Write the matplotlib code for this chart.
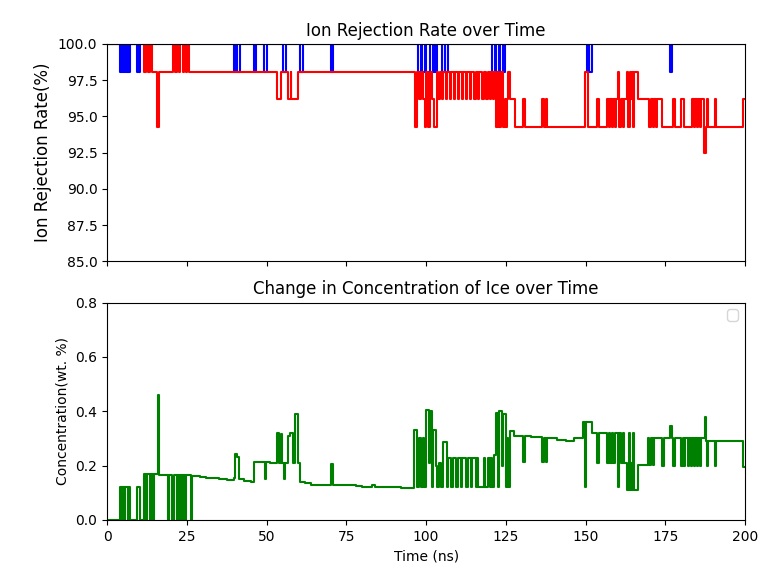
import matplotlib
matplotlib.use('Agg')
import matplotlib.pyplot as plt

# blue series: change points (time ns, rejection %)
blue_t = [0, 4.1, 4.8, 5.0, 5.6, 5.8, 6.5, 6.7, 7.2, 9.4, 9.8, 10.0, 10.3,
          39.8, 40.5, 40.8, 41.7, 46.0, 46.6, 49.2, 50.1, 55.2, 56.0, 60.5, 61.3,
          70.2, 70.8, 97.5, 98.5, 98.8, 99.6, 99.9, 101.3, 102.2, 102.7, 103.0, 103.4,
          105.0, 105.8, 106.0, 107.0, 120.7, 121.6, 121.9, 122.8, 123.2, 124.0,
          124.3, 124.8, 150.3, 151.0, 151.2, 152.0, 176.6, 177.2, 200]
blue_v = [100, 98.1, 100, 98.1, 100, 98.1, 100, 98.1, 100, 98.1, 100, 98.1, 100,
          98.1, 100, 98.1, 100, 98.1, 100, 98.1, 100, 98.1, 100, 98.1, 100,
          98.1, 100, 98.1, 100, 98.1, 100, 98.1, 100, 98.1, 100, 98.1, 100,
          98.1, 100, 98.1, 100, 98.1, 100, 98.1, 100, 98.1, 100,
          98.1, 100, 98.1, 100, 98.1, 100, 98.1, 100, 100]

# red series: change points
red_t = [0, 11.6, 12.2, 12.8, 13.4, 14.0, 15.7, 16.2, 20.7, 21.3, 21.8, 22.4, 22.8,
         23.7, 24.0, 24.6, 25.0, 25.6, 53.3, 54.5, 56.7, 57.5, 57.8, 59.9,
         96.5, 97.2, 97.8, 98.4, 99.0, 99.5, 100.0, 100.5, 101.3, 102.0, 102.5,
         103.3, 103.8, 104.2, 105.0, 105.3, 106.2, 106.5, 107.5, 107.8, 108.6, 109.0,
         110.0, 110.3, 111.2, 111.6, 112.5, 112.9, 113.8, 114.2, 115.0, 115.5,
         116.3, 116.7, 117.5, 118.0, 118.8, 119.3, 120.0, 120.4, 121.0, 121.4,
         122.0, 122.5, 123.0, 123.6, 124.0, 124.6, 125.0, 125.4, 125.8, 126.2, 128.0,
         130.4, 131.0, 136.4, 137.0, 137.5, 138.0, 149.8, 150.8, 153.6, 154.2,
         156.7, 157.2, 157.6, 158.2, 158.5, 159.2, 159.5, 160.0, 160.6, 161.0, 161.6,
         162.0, 163.0, 163.4, 163.8, 164.2, 164.5, 165.0, 165.3, 166.5, 170.0, 170.5,
         171.0, 171.4, 172.0, 172.3, 174.0, 177.4, 178.0, 180.0, 181.0, 183.4, 184.0,
         184.3, 185.0, 185.3, 186.0, 186.3, 187.2, 187.7, 188.0, 188.4, 190.5, 190.9,
         199.4, 200]
red_v = [100, 98.1, 100, 98.1, 100, 98.1, 94.3, 98.1, 100, 98.1, 100, 98.1, 100,
         98.1, 100, 98.1, 100, 98.1, 96.2, 98.1, 96.2, 98.1, 96.2, 98.1,
         94.3, 98.1, 96.2, 98.1, 96.2, 94.3, 98.1, 94.3, 98.1, 96.2, 94.3,
         98.1, 96.2, 98.1, 96.2, 98.1, 96.2, 98.1, 96.2, 98.1, 96.2, 98.1,
         96.2, 98.1, 96.2, 98.1, 96.2, 98.1, 96.2, 98.1, 96.2, 98.1,
         96.2, 98.1, 96.2, 98.1, 96.2, 98.1, 96.2, 98.1, 96.2, 98.1,
         94.3, 98.1, 94.3, 98.1, 94.3, 96.2, 94.3, 96.2, 98.1, 96.2, 94.3,
         96.2, 94.3, 96.2, 94.3, 96.2, 94.3, 98.1, 94.3, 96.2, 94.3,
         96.2, 94.3, 96.2, 94.3, 96.2, 94.3, 96.2, 98.1, 94.3, 96.2, 94.3,
         96.2, 98.1, 94.3, 98.1, 96.2, 98.1, 94.3, 98.1, 96.2, 94.3, 96.2,
         94.3, 96.2, 94.3, 96.2, 94.3, 96.2, 94.3, 96.2, 94.3, 96.2, 94.3,
         96.2, 94.3, 96.2, 94.3, 96.2, 92.5, 94.3, 96.2, 94.3, 96.2, 94.3,
         96.2, 96.2]

# green series: ice concentration change points (time ns, wt. %)
ice_t = [0, 4.1, 4.6, 4.8, 5.4, 5.6, 6.4, 6.6, 7.2, 9.3, 10.3, 11.6, 12.2, 12.6,
         13.4, 13.8, 14.3, 14.6, 15.9, 16.3, 19.0, 19.5, 20.4, 21.0, 21.8, 22.0,
         22.4, 22.8, 23.5, 23.9, 24.4, 24.8, 26.2, 26.6, 29, 31, 33, 35, 37.5, 39.8,
         40.0, 40.8, 41.5, 43, 45, 46.0, 49.4, 49.8, 51, 53.3, 54.0, 54.5, 54.8,
         55.4, 55.8, 56.7, 57.3, 58.3, 59.0, 59.7, 60.5, 62, 64, 67, 70.3, 70.8,
         73, 76, 78, 80, 83, 84, 88, 92, 96.0, 96.3, 97.2, 97.8, 98.4, 99.0, 99.4,
         100.0, 100.8, 101.3, 102.0, 102.3, 103.0, 103.5, 104.0, 104.8, 105.3,
         106.6, 107.0, 107.8, 108.3, 109.5, 110.0, 110.8, 111.2, 112.5, 113.0,
         114.0, 114.4, 115.6, 116.0, 116.4, 118.0, 118.4, 119.5, 119.9, 120.4,
         120.8, 121.2, 122.0, 122.6, 123.0, 123.9, 124.2, 125.0, 125.4, 125.8,
         126.2, 127.5, 130.4, 131.0, 133, 136.4, 137.0, 137.5, 138.0, 141, 144,
         146.5, 149.2, 149.8, 150.2, 152.0, 153.6, 154.2, 156.7, 157.2, 157.6,
         158.2, 158.5, 159.2, 160.0, 160.6, 161.0, 161.6, 162.0, 163.0, 163.5,
         163.8, 164.2, 164.5, 165.0, 165.3, 166.5, 169.6, 170.0, 170.5, 171.0,
         171.4, 174.0, 174.5, 176.5, 177.0, 177.4, 178.0, 180.0, 180.5, 181.0,
         181.3, 182.0, 182.4, 183.0, 183.3, 184.0, 184.3, 185.0, 185.3, 186.0,
         186.3, 187.3, 187.7, 188.0, 188.4, 190.5, 190.9, 195, 199.4, 200]
ice_v = [0, 0.122, 0, 0.122, 0, 0.12, 0, 0.122, 0, 0.12, 0, 0.169, 0, 0.169,
         0, 0.169, 0, 0.169, 0.459, 0.165, 0, 0.165, 0, 0.165, 0, 0.165,
         0, 0.165, 0, 0.165, 0, 0.165, 0, 0.162, 0.158, 0.155, 0.153, 0.150, 0.148, 0.155,
         0.242, 0.230, 0.150, 0.142, 0.138, 0.215, 0.150, 0.215, 0.21, 0.319, 0.21, 0.315, 0.21,
         0.150, 0.21, 0.31, 0.32, 0.21, 0.389, 0.21, 0.141, 0.135, 0.130, 0.128, 0.206, 0.128,
         0.128, 0.130, 0.125, 0.122, 0.128, 0.122, 0.122, 0.118, 0.116, 0.33, 0.12, 0.30, 0.12, 0.30, 0.12,
         0.404, 0.21, 0.40, 0.12, 0.33, 0.2, 0.12, 0.21, 0.12, 0.287,
         0.12, 0.227, 0.12, 0.227, 0.12, 0.227, 0.12, 0.227, 0.12, 0.227,
         0.12, 0.227, 0.12, 0.227, 0.12, 0.227, 0.12, 0.227, 0.12, 0.227,
         0.12, 0.24, 0.392, 0.12, 0.40, 0.2, 0.39, 0.12, 0.30, 0.12,
         0.327, 0.31, 0.214, 0.31, 0.305, 0.214, 0.30, 0.214, 0.30, 0.295, 0.29,
         0.30, 0.36, 0.12, 0.36, 0.32, 0.21, 0.32, 0.21, 0.32, 0.21,
         0.32, 0.21, 0.32, 0.12, 0.32, 0.21, 0.32, 0.21, 0.11, 0.32,
         0.11, 0.21, 0.11, 0.32, 0.11, 0.202, 0.30, 0.202, 0.30, 0.202,
         0.30, 0.20, 0.30, 0.345, 0.30, 0.20, 0.30, 0.20, 0.30, 0.20,
         0.30, 0.20, 0.30, 0.20, 0.30, 0.20, 0.30, 0.20, 0.30, 0.20,
         0.30, 0.379, 0.29, 0.20, 0.29, 0.20, 0.29, 0.29, 0.196, 0.196]

fig, (ax1, ax2) = plt.subplots(2, 1, sharex=True, figsize=(7.65, 5.75), dpi=100)
fig.subplots_adjust(left=0.14, right=0.974, top=0.9235, bottom=0.0957, hspace=0.189)

ax1.plot(blue_t, blue_v, color='blue', drawstyle='steps-post')
ax1.plot(red_t, red_v, color='red', drawstyle='steps-post')
ax1.set_ylim(85, 100)
ax1.set_xlim(0, 200)
ax1.set_title('Ion Rejection Rate over Time', fontsize=12)
ax1.set_ylabel('Ion Rejection Rate(%)', fontsize=12)

ax2.plot(ice_t, ice_v, color='green', drawstyle='steps-post')
ax2.set_ylim(0, 0.8)
ax2.set_title('Change in Concentration of Ice over Time', fontsize=12)
ax2.set_ylabel('Concentration(wt. %)')
ax2.set_xlabel('Time (ns)')
ax2.legend(handles=[], loc='upper right')

fig.savefig('out.png')
